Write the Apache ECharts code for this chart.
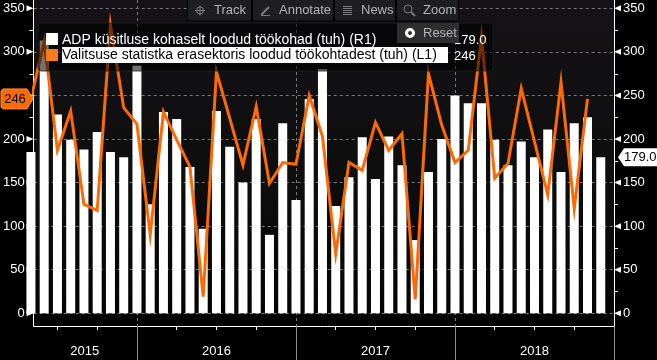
<!DOCTYPE html>
<html>
<head>
<meta charset="utf-8">
<style>
  html, body { margin: 0; padding: 0; background: #000; }
  #chart { width: 657px; height: 360px; }
</style>
<script src="https://cdn.jsdelivr.net/npm/echarts@6/dist/echarts.min.js"></script>
</head>
<body>
<div id="chart"></div>
<script>
// ADP (R1), months run from the clipped bar at the left edge
const adpValues = [185, 313, 228, 199, 188, 208, 185, 179, 284, 125, 231, 223, 168, 97, 232, 191, 150, 223, 90, 218, 130, 246, 280,
  123, 156, 202, 154, 203, 170, 84, 162, 200, 250, 241, 241, 199, 170, 197, 179, 211, 162, 218, 225, 179]
// government private sector (L1), stops one month earlier
const govValues = [246, 312, 187, 232, 125, 118, 331, 236, 217, 90, 231, 199, 168, 19, 277, 224, 170, 237, 149, 173, 171, 250, 203,
  68, 173, 164, 219, 187, 206, 16, 275, 216, 173, 187, 317, 155, 172, 258, 197, 136, 265, 120, 246]

const yTicks = [0, 50, 100, 150, 200, 250, 300, 350]
const yMinorTicks = [25, 75, 125, 175, 225, 275, 325]
const quarterTicks = [2, 5, 8, 11, 14, 17, 20, 23, 26, 29, 32, 35, 38, 41, 44]
const yearEnds = [8, 20, 32, 44]
const yearMids = [4.06, 14, 26, 38]
const yearLabels = ['2015', '2016', '2017', '2018']

const legendAdp = 'ADP küsitluse kohaselt loodud töökohad (tuh) (R1)'
const legendGov = 'Valitsuse statistka erasektoris loodud töökohtadest (tuh) (L1)'
const toolButtons = [
  { name: 'Track', x: 187, w: 65, tx: 214 },
  { name: 'Annotate', x: 252, w: 82, tx: 279 },
  { name: 'News', x: 334, w: 62, tx: 361 },
  { name: 'Zoom', x: 396, w: 63, tx: 423 },
]

const ORANGE = '#ff6a00'
const FONT = '"Liberation Sans", sans-serif'
const xMin = 0.2075
const xMax = 44

const chart = echarts.init(document.getElementById('chart'))

function yAxisOption(position) {
  return {
    type: 'value',
    position: position,
    min: -14.6,
    max: 359.5,
    axisLine: { show: true, lineStyle: { color: '#fff', width: 1 } },
    axisTick: { show: false, customValues: yTicks },
    axisLabel: {
      customValues: yTicks,
      color: '#fff',
      fontFamily: FONT,
      fontSize: 13,
      margin: 9,
    },
    splitLine: {
      show: position === 'left',
      lineStyle: { color: '#7a7a7a', type: [3, 3], width: 1 },
    },
  }
}

chart.setOption({
  backgroundColor: '#000',
  animation: false,
  grid: {
    left: 33.5,
    top: 0,
    width: 580.5,
    height: 326,
    show: true,
    borderWidth: 0,
    backgroundColor: new echarts.graphic.LinearGradient(0, 0, 0, 1, [
      { offset: 0, color: '#141216' },
      { offset: 0.55, color: '#0e0e0e' },
      { offset: 1, color: '#030303' },
    ]),
  },
  xAxis: [
    {
      type: 'value',
      min: xMin,
      max: xMax,
      axisLine: { show: true, onZero: false, lineStyle: { color: '#fff', width: 1 } },
      axisTick: { show: true, customValues: quarterTicks, length: 4, lineStyle: { color: '#fff' } },
      axisLabel: {
        customValues: yearMids,
        formatter: (v) => yearLabels[yearMids.indexOf(v)],
        color: '#fff',
        fontFamily: FONT,
        fontSize: 13,
        margin: 19,
      },
      splitLine: { show: false },
    },
    {
      type: 'value',
      position: 'bottom',
      min: xMin,
      max: xMax,
      axisLine: { show: false, onZero: false },
      axisTick: { show: true, customValues: yearEnds, length: 34, lineStyle: { color: '#8c8c8c' } },
      axisLabel: { show: false },
      splitLine: { show: true, lineStyle: { color: '#7a7a7a', type: [3, 3], width: 1 } },
    },
  ],
  yAxis: [yAxisOption('left'), yAxisOption('right')],
  series: [
    {
      name: legendAdp,
      type: 'bar',
      yAxisIndex: 1,
      barWidth: 9,
      itemStyle: { color: '#fff' },
      data: adpValues.map((v, i) => [i, v]),
    },
    {
      name: legendGov,
      type: 'line',
      yAxisIndex: 0,
      symbol: 'none',
      lineStyle: { color: ORANGE, width: 3, join: 'miter' },
      data: govValues.map((v, i) => [i, v]),
    },
  ],
})

// overlays that need the axis scale
function yPx(v) {
  return chart.convertToPixel({ yAxisIndex: 0 }, v)
}

function buildOverlay() {
  const left = 33.5
  const right = 614
  const els = []

  yTicks.forEach((v) => {
    const y = yPx(v)
    els.push({ type: 'polygon', z: 5, shape: { points: [[left, y], [left - 7, y - 3], [left - 7, y + 3]] }, style: { fill: '#fff' } })
    els.push({ type: 'polygon', z: 5, shape: { points: [[right, y], [right + 7, y - 3], [right + 7, y + 3]] }, style: { fill: '#fff' } })
  })
  yMinorTicks.forEach((v) => {
    const y = Math.round(yPx(v)) + 0.5
    els.push({ type: 'line', z: 5, shape: { x1: left - 4, y1: y, x2: left, y2: y }, style: { stroke: '#fff' } })
    els.push({ type: 'line', z: 5, shape: { x1: right, y1: y, x2: right + 4, y2: y }, style: { stroke: '#fff' } })
  })

  // legend panel, sits over the marks and darkens them
  els.push({ type: 'rect', z: 20, shape: { x: 38, y: 23, width: 455, height: 48, r: 3 }, style: { fill: 'rgba(0,0,0,0.55)', stroke: 'rgba(30,30,30,0.8)' } })
  els.push({ type: 'rect', z: 21, shape: { x: 46, y: 33, width: 12, height: 12 }, style: { fill: '#fff' } })
  els.push({ type: 'rect', z: 21, shape: { x: 46, y: 49, width: 12, height: 12 }, style: { fill: '#ff7a1a' } })
  els.push({ type: 'rect', z: 21, shape: { x: 62, y: 47, width: 386, height: 16 }, style: { fill: '#fff' } })
  els.push({ type: 'text', z: 22, style: { x: 62, y: 40, text: legendAdp, fill: '#fff', font: '14px ' + FONT, verticalAlign: 'middle' } })
  els.push({ type: 'text', z: 22, style: { x: 62, y: 55.5, text: legendGov, fill: '#000', font: '14px ' + FONT, verticalAlign: 'middle' } })
  els.push({ type: 'text', z: 22, style: { x: 454, y: 40, text: adpValues[adpValues.length - 1].toFixed(1), fill: '#fff', font: '13px ' + FONT, verticalAlign: 'middle' } })
  els.push({ type: 'text', z: 22, style: { x: 454, y: 56, text: String(govValues[govValues.length - 1]), fill: '#fff', font: '13px ' + FONT, verticalAlign: 'middle' } })

  // toolbar
  toolButtons.forEach((b) => {
    els.push({ type: 'rect', z: 30, shape: { x: b.x + 0.5, y: -1, width: b.w - 1, height: 22 }, style: { fill: 'rgba(32,32,34,0.92)', stroke: '#000' } })
    els.push({ type: 'text', z: 31, style: { x: b.tx, y: 10.5, text: b.name, fill: '#b4b4b4', font: '13px ' + FONT, verticalAlign: 'middle' } })
  })
  const grey = { stroke: '#7c7c7c', fill: 'none', lineWidth: 1 }
  els.push({ type: 'circle', z: 31, shape: { cx: 200, cy: 10.5, r: 3.5 }, style: grey })
  els.push({ type: 'line', z: 31, shape: { x1: 195, y1: 10.5, x2: 205, y2: 10.5 }, style: grey })
  els.push({ type: 'line', z: 31, shape: { x1: 200, y1: 5.5, x2: 200, y2: 15.5 }, style: grey })
  els.push({ type: 'line', z: 31, shape: { x1: 261, y1: 15, x2: 269, y2: 7 }, style: { stroke: '#7c7c7c', lineWidth: 2 } })
  els.push({ type: 'line', z: 31, shape: { x1: 261, y1: 15.5, x2: 270, y2: 15.5 }, style: grey })
  ;[6.5, 8.5, 10.5, 12.5, 14.5].forEach((y) => {
    els.push({ type: 'line', z: 31, shape: { x1: 343, y1: y, x2: 352, y2: y }, style: grey })
  })
  els.push({ type: 'circle', z: 31, shape: { cx: 408, cy: 9, r: 4 }, style: grey })
  els.push({ type: 'line', z: 31, shape: { x1: 411, y1: 12, x2: 415, y2: 16 }, style: { stroke: '#7c7c7c', lineWidth: 2 } })

  els.push({ type: 'rect', z: 30, shape: { x: 397, y: 23, width: 62, height: 20 }, style: { fill: 'rgba(48,48,50,0.95)' } })
  els.push({ type: 'circle', z: 31, shape: { cx: 410, cy: 33, r: 3.5 }, style: { stroke: '#fff', fill: 'none', lineWidth: 3 } })
  els.push({ type: 'text', z: 31, style: { x: 423, y: 33, text: 'Reset', fill: '#b4b4b4', font: '13px ' + FONT, verticalAlign: 'middle' } })

  // last value tags
  const govY = yPx(govValues[govValues.length - 1])
  els.push({
    type: 'polygon', z: 25,
    shape: { points: [[3, govY - 10], [27, govY - 10], [33, govY], [27, govY + 10], [3, govY + 10], [1, govY + 8], [1, govY - 8]] },
    style: { fill: ORANGE, stroke: '#ff8a33' },
  })
  els.push({ type: 'text', z: 26, style: { x: 15, y: govY + 0.5, text: String(govValues[govValues.length - 1]), fill: '#000', font: '13px ' + FONT, align: 'center', verticalAlign: 'middle' } })

  const adpY = yPx(adpValues[adpValues.length - 1])
  els.push({
    type: 'polygon', z: 25,
    shape: { points: [[618, adpY], [624, adpY - 9], [657, adpY - 9], [657, adpY + 9], [624, adpY + 9]] },
    style: { fill: '#fff' },
  })
  els.push({ type: 'text', z: 26, style: { x: 624, y: adpY + 0.5, text: adpValues[adpValues.length - 1].toFixed(1), fill: '#000', font: '13px ' + FONT, verticalAlign: 'middle' } })

  return els
}

chart.setOption({ graphic: { elements: buildOverlay() } })
</script>
</body>
</html>
